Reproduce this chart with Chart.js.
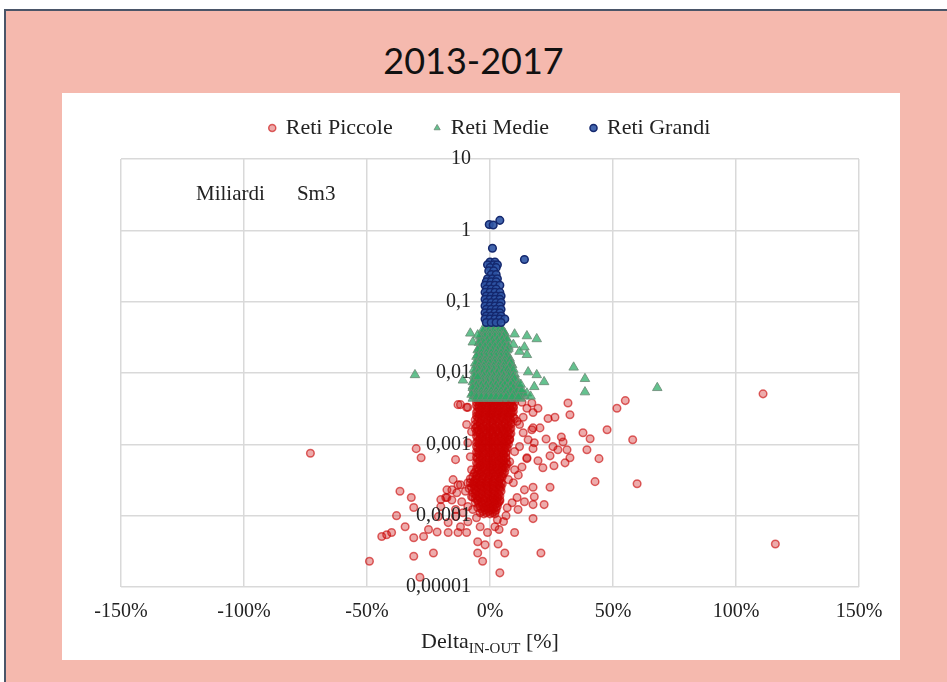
<!DOCTYPE html>
<html>
<head>
<meta charset="utf-8">
<script src="https://cdn.jsdelivr.net/npm/chart.js@4.4.0/dist/chart.umd.min.js"></script>
<style>
  html, body { margin: 0; padding: 0; background: #fff; }
  body { width: 947px; height: 682px; position: relative; overflow: hidden; }
  #slide { position: absolute; left: 4px; top: 9px; width: 960px; height: 700px; background: #F5B9AE; border-top: 2px solid #4A5568; border-left: 2px solid #4A5568; }
  #title { position: absolute; left: 0; top: 40px; width: 947px; line-height: 40px; text-align: center; font-size: 36px; font-family: Lato, "Open Sans", sans-serif; color: #111; }
  #panel { position: absolute; left: 62px; top: 93px; width: 838px; height: 567px; background: #fff; }
  #wrap { position: absolute; left: 62px; top: 75px; width: 838px; height: 585px; }
</style>
</head>
<body>
<div id="slide"></div>
<div id="title">2013-2017</div>
<div id="panel"></div>
<div id="wrap"><canvas id="chartCanvas"></canvas></div>
<script>
// axis ticks
const xTicks = [-150, -100, -50, 0, 50, 100, 150];
const yTicks = [0.00001, 0.0001, 0.001, 0.01, 0.1, 1, 10];
const yTickLabels = ['0,00001', '0,0001', '0,001', '0,01', '0,1', '1', '10'];

const seriesNames = ['Reti Piccole', 'Reti Medie', 'Reti Grandi'];

// dense part of each cloud, read row by row: [y, [x%, ...]]
const piccoleCore = [
  [0.0044, [-4.5, -2, 0.5, 3, 5.5, 8]],
  [0.0041, [-5, -3, -0.5, 1.5, 4, 6.5, 9.5]],
  [0.0038, [-4, -1.5, 1, 3.5, 6, 8.5]],
  [0.0035, [-5.5, -3, -0.5, 2, 4.5, 7, 9]],
  [0.0032, [-4.5, -2, 0.5, 3, 5.5, 8]],
  [0.0029, [-5, -2.5, 0, 2.5, 5, 7.5, 9.5]],
  [0.0027, [-4, -1.5, 1, 3.5, 6, 8.5]],
  [0.0025, [-5.5, -3, -0.5, 2, 4.5, 7]],
  [0.0023, [-4.5, -2, 0.5, 3, 5.5, 8, 10]],
  [0.0021, [-5, -2.5, 0, 2.5, 5, 7.5]],
  [0.0019, [-6, -4, -1.5, 1, 3.5, 6, 8.5]],
  [0.00175, [-5.5, -3, -0.5, 2, 4.5, 7]],
  [0.0016, [-4.5, -2, 0.5, 3, 5.5, 8]],
  [0.00148, [-5.5, -2.5, 0, 2.5, 5, 7.5]],
  [0.00136, [-4, -1.5, 1, 3.5, 6, 8]],
  [0.00125, [-5, -3, -0.5, 2, 4.5, 7]],
  [0.00115, [-4.5, -2, 0.5, 3, 5.5, 7.5]],
  [0.00106, [-5.5, -2.5, 0, 2.5, 5, 7]],
  [0.00097, [-4, -1.5, 1, 3.5, 6]],
  [0.00089, [-5, -3, -0.5, 2, 4.5, 7]],
  [0.00082, [-4.5, -2, 0.5, 3, 5.5]],
  [0.00075, [-5, -2.5, 0, 2.5, 5, 6.5]],
  [0.00069, [-4, -1.5, 1, 3.5, 5.5]],
  [0.00063, [-5, -3, -0.5, 2, 4.5, 6.5]],
  [0.00058, [-4.5, -2, 0.5, 3, 5.5]],
  [0.00053, [-5, -2.5, 0, 2.5, 5, 7]],
  [0.00049, [-4, -1.5, 1, 3.5, 6]],
  [0.00045, [-5.5, -3, -0.5, 2, 4.5]],
  [0.00041, [-6, -3.5, -1, 1.5, 4, 6]],
  [0.00038, [-5, -2.5, 0, 2.5, 5]],
  [0.00035, [-7, -4.5, -2, 0.5, 3, 5]],
  [0.00032, [-6, -3.5, -1, 1.5, 4]],
  [0.00029, [-8, -5.5, -3, -0.5, 2, 4.5]],
  [0.00027, [-6.5, -4, -1.5, 1, 3.5]],
  [0.00025, [-7.5, -5, -2.5, 0, 2.5, 4.5]],
  [0.00023, [-6, -3.5, -1, 1.5, 4]],
  [0.00021, [-7, -4.5, -2, 0.5, 3]],
  [0.00019, [-5.5, -3, -0.5, 2, 4]],
  [0.000175, [-6, -4, -1.5, 1, 3]],
  [0.00016, [-5, -2.5, 0, 2.5, 4]],
  [0.000148, [-4.5, -2, 0.5, 3]],
  [0.000136, [-4, -1.5, 1, 3]],
  [0.000125, [-3.5, -1, 1.5]],
  [0.000115, [-3, -0.5, 2]],
  [0.000106, [-2.5, 0, 2]]
];

// second pass over the same dense column, between the rows above
const piccoleCoreFill = [
  [0.0042, [-3.5, -1, 2, 4.5, 7, 9]],
  [0.0039, [-5.5, -2.5, 0, 2.5, 5, 7.5, 10]],
  [0.0036, [-4.5, -2, 0.5, 3, 5.5, 8]],
  [0.0033, [-5, -3.5, -1, 1.5, 4, 6.5, 9.5]],
  [0.003, [-4, -1.5, 1, 3.5, 6, 8.5]],
  [0.0028, [-5.5, -3, -0.5, 2, 4.5, 7, 9]],
  [0.0026, [-4.5, -2, 0.5, 3, 5.5, 8]],
  [0.0024, [-5, -2.5, 0, 2.5, 5, 7.5, 9.5]],
  [0.0022, [-6, -3.5, -1, 1.5, 4, 6.5, 8.5]],
  [0.002, [-4, -1.5, 1, 3.5, 6, 8.5]],
  [0.00182, [-5, -2.5, 0, 2.5, 5, 7.5]],
  [0.00167, [-6, -3.5, -1, 1.5, 4, 6.5, 8.5]],
  [0.00154, [-5, -2.5, 0, 2.5, 5, 7]],
  [0.00142, [-4, -1.5, 1, 3.5, 6, 8.5]],
  [0.0013, [-5.5, -3, -0.5, 2, 4.5, 7]],
  [0.0012, [-4, -1.5, 1, 3.5, 6, 8]],
  [0.0011, [-5, -3, -0.5, 2, 4.5, 6.5]],
  [0.00101, [-4.5, -2, 0.5, 3, 5.5, 7.5]],
  [0.00093, [-5.5, -3, -0.5, 2, 4.5, 6.5]],
  [0.00085, [-4, -1.5, 1, 3.5, 6]],
  [0.00078, [-5.5, -3, -0.5, 2, 4.5, 6.5]],
  [0.00072, [-4.5, -2, 0.5, 3, 5.5]],
  [0.00066, [-5.5, -3, -0.5, 2, 4.5, 6.5]],
  [0.0006, [-4, -1.5, 1, 3.5, 5.5]],
  [0.00055, [-5.5, -3, -0.5, 2, 4.5, 6.5]],
  [0.00051, [-4, -1.5, 1, 3.5, 5.5]],
  [0.00047, [-5, -2.5, 0, 2.5, 5, 6.5]],
  [0.00043, [-4.5, -2, 0.5, 3, 5]],
  [0.00039, [-6.5, -4, -1.5, 1, 3.5, 5.5]],
  [0.00036, [-5.5, -3, -0.5, 2, 4.5]],
  [0.00033, [-8, -5.5, -3, -0.5, 2, 4]],
  [0.0003, [-6.5, -4, -1.5, 1, 3.5]],
  [0.00028, [-7, -4.5, -2, 0.5, 3, 5]],
  [0.00026, [-6, -3.5, -1, 1.5, 4]],
  [0.00024, [-8.5, -6.5, -4, -1.5, 1, 3.5]],
  [0.00022, [-5.5, -3, -0.5, 2, 4.5]],
  [0.0002, [-6, -3.5, -1, 1.5, 3.5]],
  [0.000182, [-7, -4.5, -2, 0.5, 3]],
  [0.000168, [-5, -2.5, 0, 2, 4]],
  [0.000154, [-6, -3.5, -1, 1.5, 3.5]],
  [0.000142, [-3, -0.5, 2]],
  [0.00013, [-5, -2.5, 0, 2.5]],
  [0.00012, [-2, 0.5, 2.5]],
  [0.00011, [-4, -1.5, 1]]
];

// scattered small networks [x%, y]
const piccoleSparse = [
  [-13, 0.0036], [-9.5, 0.0033], [-9.5, 0.0019], [-12, 0.0036], [-9, 0.0033], [-7.5, 0.0015],
  [-30, 0.00087], [-28, 0.00065], [-14, 0.00061], [-9, 0.00105], [-8, 0.00067], [-7.5, 0.00044],
  [-36.6, 0.00022], [-32, 0.00018], [-31, 0.00013], [-38, 0.0001], [-34.5, 0.00007],
  [-44, 0.000051], [-42, 0.000054], [-40, 0.000058], [-31, 0.000049], [-27, 0.000051],
  [-25, 0.000064], [-21.5, 0.000059], [-49, 0.000023], [-31, 0.000027], [-23, 0.00003],
  [-28.5, 0.0000137], [-20, 0.000168], [-17.5, 0.00018], [-15.5, 0.00023], [-13, 0.00027],
  [-14, 0.000098], [-17, 0.000058], [-13, 0.000058], [-9.5, 0.000058], [-5, 0.000043],
  [-2, 0.000039], [-5, 0.00003], [-3, 0.000023], [4, 0.0000158], [6, 0.00003], [3.3, 0.00004],
  [-1, 0.000058], [10, 0.000058], [3.7, 0.000064], [20.7, 0.00003],
  [-15, 0.00032], [-12, 0.00027], [-9, 0.00029], [-17.5, 0.00023], [-13.5, 0.00021],
  [-10, 0.00022], [-7.5, 0.000184], [-15.5, 0.000166], [-11.5, 0.000157], [-9, 0.000134],
  [-14, 0.000122], [-11, 0.00011], [-7, 0.000122], [-5.5, 0.0000935], [-9, 0.000082],
  [-12, 0.00007], [-4, 0.00007], [-20, 0.000134], [-18, 0.00018], [-21, 0.000097], [-17, 0.00008],
  [13, 0.0039], [17, 0.0038], [17.5, 0.0028], [13.5, 0.0024], [17, 0.0016], [13.5, 0.00145],
  [15.5, 0.00116], [18, 0.00105], [12, 0.00093], [15, 0.00065], [13, 0.00048], [11.5, 0.00037],
  [9.5, 0.00029], [11, 0.00018], [9, 0.000152], [7, 0.000129], [3, 0.0000875], [2, 0.00007],
  [5.5, 0.000083], [9.5, 0.0033], [11, 0.0021], [8, 0.00116], [10, 0.00079], [8, 0.00057],
  [10, 0.00044], [7.5, 0.00032], [12, 0.0019], [15, 0.0032], [19.5, 0.0032],
  [31.7, 0.0038], [32.5, 0.0026], [51.6, 0.0032], [55, 0.0041], [23.6, 0.0023], [26.4, 0.0024],
  [20.3, 0.0017], [17.5, 0.0017], [37.8, 0.00145], [40.7, 0.0012], [47.6, 0.0016], [58, 0.00116],
  [29, 0.00127], [22.8, 0.00119], [29.7, 0.00108], [25.6, 0.00093], [27.6, 0.00084],
  [31.3, 0.00084], [39.4, 0.00084], [44.3, 0.00063], [32.5, 0.00065], [30.5, 0.00055],
  [24.4, 0.00069], [19.5, 0.00059], [21.5, 0.00047], [26, 0.0005], [17.5, 0.00087], [15, 0.00063],
  [42.7, 0.0003], [59.8, 0.00028], [24.4, 0.00025], [17.5, 0.00025], [14, 0.00023], [18, 0.000184],
  [14, 0.000157], [17.5, 0.000143], [22, 0.000143], [11.4, 0.000122], [6.5, 0.0001],
  [17.5, 0.000091], [111, 0.0051], [116, 0.00004], [-73, 0.00075]
];

const medieCore = [
  [0.046, [-1, 1, 3]],
  [0.042, [-2, 0.5, 2.5, 4.5]],
  [0.038, [-2.5, -0.5, 1.5, 3.5, 5.5]],
  [0.034, [-3, -1, 1, 3, 5]],
  [0.031, [-3.5, -1.5, 0.5, 2.5, 4.5, 6.5]],
  [0.028, [-4, -2, 0, 2, 4, 6]],
  [0.025, [-3.5, -1.5, 0.5, 2.5, 4.5, 6.5]],
  [0.022, [-4.5, -2.5, -0.5, 1.5, 3.5, 5.5, 7.5]],
  [0.02, [-4, -2, 0, 2, 4, 6]],
  [0.018, [-5, -3, -1, 1, 3, 5, 7]],
  [0.016, [-4.5, -2.5, -0.5, 1.5, 3.5, 5.5, 8]],
  [0.0145, [-5, -3, -1, 1, 3, 5, 7]],
  [0.013, [-5.5, -3.5, -1.5, 0.5, 2.5, 4.5, 6.5, 9]],
  [0.0118, [-5, -3, -1, 1, 3, 5, 7.5]],
  [0.0106, [-6, -4, -2, 0, 2, 4, 6, 8.5]],
  [0.0096, [-5.5, -3.5, -1.5, 0.5, 2.5, 4.5, 7, 10]],
  [0.0087, [-6, -4, -2, 0, 2, 4, 6, 8.5]],
  [0.0079, [-6.5, -4.5, -2.5, -0.5, 1.5, 3.5, 5.5, 8, 11]],
  [0.0072, [-6, -4, -2, 0, 2, 4, 6.5, 9.5]],
  [0.0065, [-7, -5, -3, -1, 1, 3, 5, 7.5, 10.5]],
  [0.0059, [-6.5, -4.5, -2.5, -0.5, 1.5, 3.5, 6, 9, 12]],
  [0.0053, [-7, -5, -3, -1, 1, 3, 5, 7.5, 10, 13]],
  [0.0048, [-6.5, -4.5, -2.5, -0.5, 1.5, 3.5, 6, 8.5, 11.5, 14]],
  [0.0044, [-7, -5, -3, -1, 1, 3, 5, 7.5, 10, 12.5]]
];

const medieCoreFill = [
  [0.044, [-1.5, 0, 2, 3.5]],
  [0.04, [-3, -0.5, 1.5, 3.5, 5]],
  [0.036, [-2, 0, 2, 4, 6]],
  [0.0325, [-4, -2, 0, 2, 4, 5.5]],
  [0.0295, [-3, -1, 1, 3, 5, 7]],
  [0.0265, [-4.5, -2.5, -0.5, 1.5, 3.5, 5.5]],
  [0.0235, [-4, -2, 0, 2, 4, 6, 7.5]],
  [0.021, [-5, -3, -1, 1, 3, 5, 7]],
  [0.019, [-3.5, -1.5, 0.5, 2.5, 4.5, 6.5]],
  [0.017, [-5.5, -3.5, -1.5, 0.5, 2.5, 4.5, 6.5]],
  [0.0152, [-4, -2, 0, 2, 4, 6, 8]],
  [0.0137, [-6, -4, -2, 0, 2, 4, 6, 8.5]],
  [0.0124, [-4.5, -2.5, -0.5, 1.5, 3.5, 5.5, 8]],
  [0.0112, [-6.5, -4.5, -2.5, -0.5, 1.5, 3.5, 5.5, 7, 9.5]],
  [0.0101, [-5, -3, -1, 1, 3, 5, 7.5]],
  [0.0091, [-6.5, -4.5, -2.5, -0.5, 1.5, 3.5, 5.5, 7.5, 9.5]],
  [0.0083, [-5, -3, -1, 1, 3, 5, 7, 10]],
  [0.0075, [-7, -5, -3, -1, 1, 3, 5, 7, 9]],
  [0.0068, [-5.5, -3.5, -1.5, 0.5, 2.5, 4.5, 6, 8.5, 11.5]],
  [0.0062, [-7, -5, -3, -1, 1, 3, 5, 7, 9.5]],
  [0.0056, [-5.5, -3.5, -1.5, 0.5, 2.5, 4.5, 6.5, 8.5, 11]],
  [0.005, [-7.5, -5.5, -3.5, -1.5, 0.5, 2.5, 4.5, 7, 9.5, 12.5]],
  [0.0046, [-5.5, -3.5, -1.5, 0.5, 2.5, 4.5, 6.5, 9, 11.5]]
];

const medieSparse = [
  [-30.5, 0.0094], [-8, 0.036], [-5, 0.034], [-7, 0.027], [10, 0.035], [15, 0.033],
  [19, 0.03], [9.5, 0.025], [14, 0.023], [12, 0.02], [15, 0.018], [34, 0.012],
  [38.6, 0.0083], [38.6, 0.0054], [68, 0.0062], [15.5, 0.0103], [19, 0.0094],
  [22, 0.0075], [18, 0.0064], [-5, 0.0088], [-11, 0.0079],
  [15, 0.0052], [13, 0.0058], [16.5, 0.0047], [12.5, 0.0069]
];

const grandiCore = [
  [0.36, [0, 2]],
  [0.33, [-1, 1.5, 3]],
  [0.3, [0, 2.5]],
  [0.27, [-0.5, 1.5]],
  [0.24, [0.5, 2.5]],
  [0.21, [-1, 1, 3]],
  [0.19, [-1.5, 0.5, 2.5]],
  [0.17, [-2, 0, 2, 4]],
  [0.15, [-1.5, 0.5, 2.5]],
  [0.135, [-2, 0, 2, 4]],
  [0.12, [-1.5, 0.5, 2.5, 4.5]],
  [0.108, [-2, 0, 2, 4]],
  [0.097, [-1.5, 0.5, 2.5, 4.5]],
  [0.087, [-2, 0, 2, 4]],
  [0.078, [-1.5, 0.5, 2.5, 4.5]],
  [0.07, [-2, 0, 2, 4]],
  [0.063, [-1.5, 0.5, 2.5, 4.5]],
  [0.057, [-2, 0, 2, 4, 6]],
  [0.051, [-1.5, 0.5, 2.5, 4.5]]
];

const grandiSparse = [
  [-0.3, 1.21], [1.3, 1.19], [4, 1.38], [1, 0.56], [14, 0.39]
];

const serif = "'Liberation Serif', 'Times New Roman', serif";
const textColor = '#222';
const gridColor = '#D9D9D9';

function toPoints(rowSets, pairs) {
    const pts = [];
    rowSets.forEach(rows => rows.forEach(([y, xs]) => xs.forEach(x => pts.push({ x: x, y: y }))));
    pairs.forEach(([x, y]) => pts.push({ x: x, y: y }));
    return pts;
}

const extraText = {
    id: 'extraText',
    afterDraw(chart) {
        const ctx = chart.ctx;
        const xs = chart.scales.x;
        const ys = chart.scales.y;
        ctx.save();
        ctx.fillStyle = textColor;

        // unit note inside the plot
        ctx.font = '21px ' + serif;
        ctx.textAlign = 'left';
        ctx.textBaseline = 'middle';
        ctx.fillText('Miliardi', xs.getPixelForValue(-119.5), ys.getPixelForValue(3.2));
        ctx.fillText('Sm3', xs.getPixelForValue(-78.5), ys.getPixelForValue(3.2));

        // x axis title with subscript
        ctx.textBaseline = 'alphabetic';
        const big = '22px ' + serif;
        const small = '15px ' + serif;
        ctx.font = big;
        const w1 = ctx.measureText('Delta').width;
        const w3 = ctx.measureText(' [%]').width;
        ctx.font = small;
        const w2 = ctx.measureText('IN-OUT').width;
        const cx = (chart.chartArea.left + chart.chartArea.right) / 2;
        let x = cx - (w1 + w2 + w3) / 2;
        const base = chart.height - 12;
        ctx.font = big;
        ctx.fillText('Delta', x, base);
        x += w1;
        ctx.font = small;
        ctx.fillText('IN-OUT', x, base + 5);
        x += w2;
        ctx.font = big;
        ctx.fillText(' [%]', x, base);
        ctx.restore();
    }
};

const ctx = document.getElementById('chartCanvas').getContext('2d');
const myChart = new Chart(ctx, {
    type: 'scatter',
    data: {
        datasets: [
            {
                label: seriesNames[0],
                data: toPoints([piccoleCore, piccoleCoreFill], piccoleSparse),
                pointStyle: 'circle',
                pointRadius: 3.8,
                borderWidth: 1.5,
                backgroundColor: 'rgba(200, 0, 0, 0.33)',
                borderColor: 'rgba(200, 0, 0, 0.6)',
                order: 3
            },
            {
                label: seriesNames[1],
                data: toPoints([medieCore, medieCoreFill], medieSparse),
                pointStyle: 'triangle',
                pointRadius: 5.5,
                borderWidth: 1,
                backgroundColor: 'rgba(40, 170, 100, 0.72)',
                borderColor: 'rgba(110, 140, 120, 0.85)',
                order: 2
            },
            {
                label: seriesNames[2],
                data: toPoints([grandiCore], grandiSparse),
                pointStyle: 'circle',
                pointRadius: 3.8,
                borderWidth: 1.5,
                backgroundColor: 'rgba(47, 85, 165, 0.9)',
                borderColor: '#14286E',
                order: 1
            }
        ]
    },
    options: {
        responsive: true,
        maintainAspectRatio: false,
        animation: false,
        events: [],
        layout: { padding: { left: 59, right: 41, top: 0, bottom: 33 } },
        scales: {
            x: {
                type: 'linear',
                min: -150,
                max: 150,
                afterBuildTicks: s => { s.ticks = xTicks.map(v => ({ value: v })); },
                afterFit: s => { s.height = 40; },
                ticks: {
                    callback: v => v + '%',
                    font: { family: serif, size: 20 },
                    color: textColor,
                    padding: 13,
                    maxRotation: 0
                },
                grid: { color: gridColor, lineWidth: 1.5, drawTicks: false },
                border: { display: false }
            },
            xTop: {
                type: 'linear',
                position: 'top',
                min: -150,
                max: 150,
                afterFit: s => { s.height = 10; },
                ticks: { display: false },
                grid: { display: false, drawTicks: false },
                border: { display: false }
            },
            y: {
                type: 'logarithmic',
                // labels sit just left of the 0% line
                position: { x: -7.7 },
                min: 0.00001,
                max: 10,
                afterBuildTicks: s => { s.ticks = yTicks.map(v => ({ value: v })); },
                ticks: {
                    callback: (v, i) => yTickLabels[i],
                    font: { family: serif, size: 20 },
                    color: textColor,
                    padding: 0,
                    z: 1
                },
                grid: { color: gridColor, lineWidth: 1.5, drawTicks: false },
                border: { display: false }
            }
        },
        plugins: {
            legend: {
                position: 'top',
                labels: {
                    usePointStyle: true,
                    boxWidth: 5,
                    boxHeight: 5,
                    padding: 42,
                    color: textColor,
                    font: { family: serif, size: 22 },
                    sort: (a, b) => a.datasetIndex - b.datasetIndex
                }
            },
            tooltip: { enabled: false }
        }
    },
    plugins: [extraText]
});
</script>
</body>
</html>
